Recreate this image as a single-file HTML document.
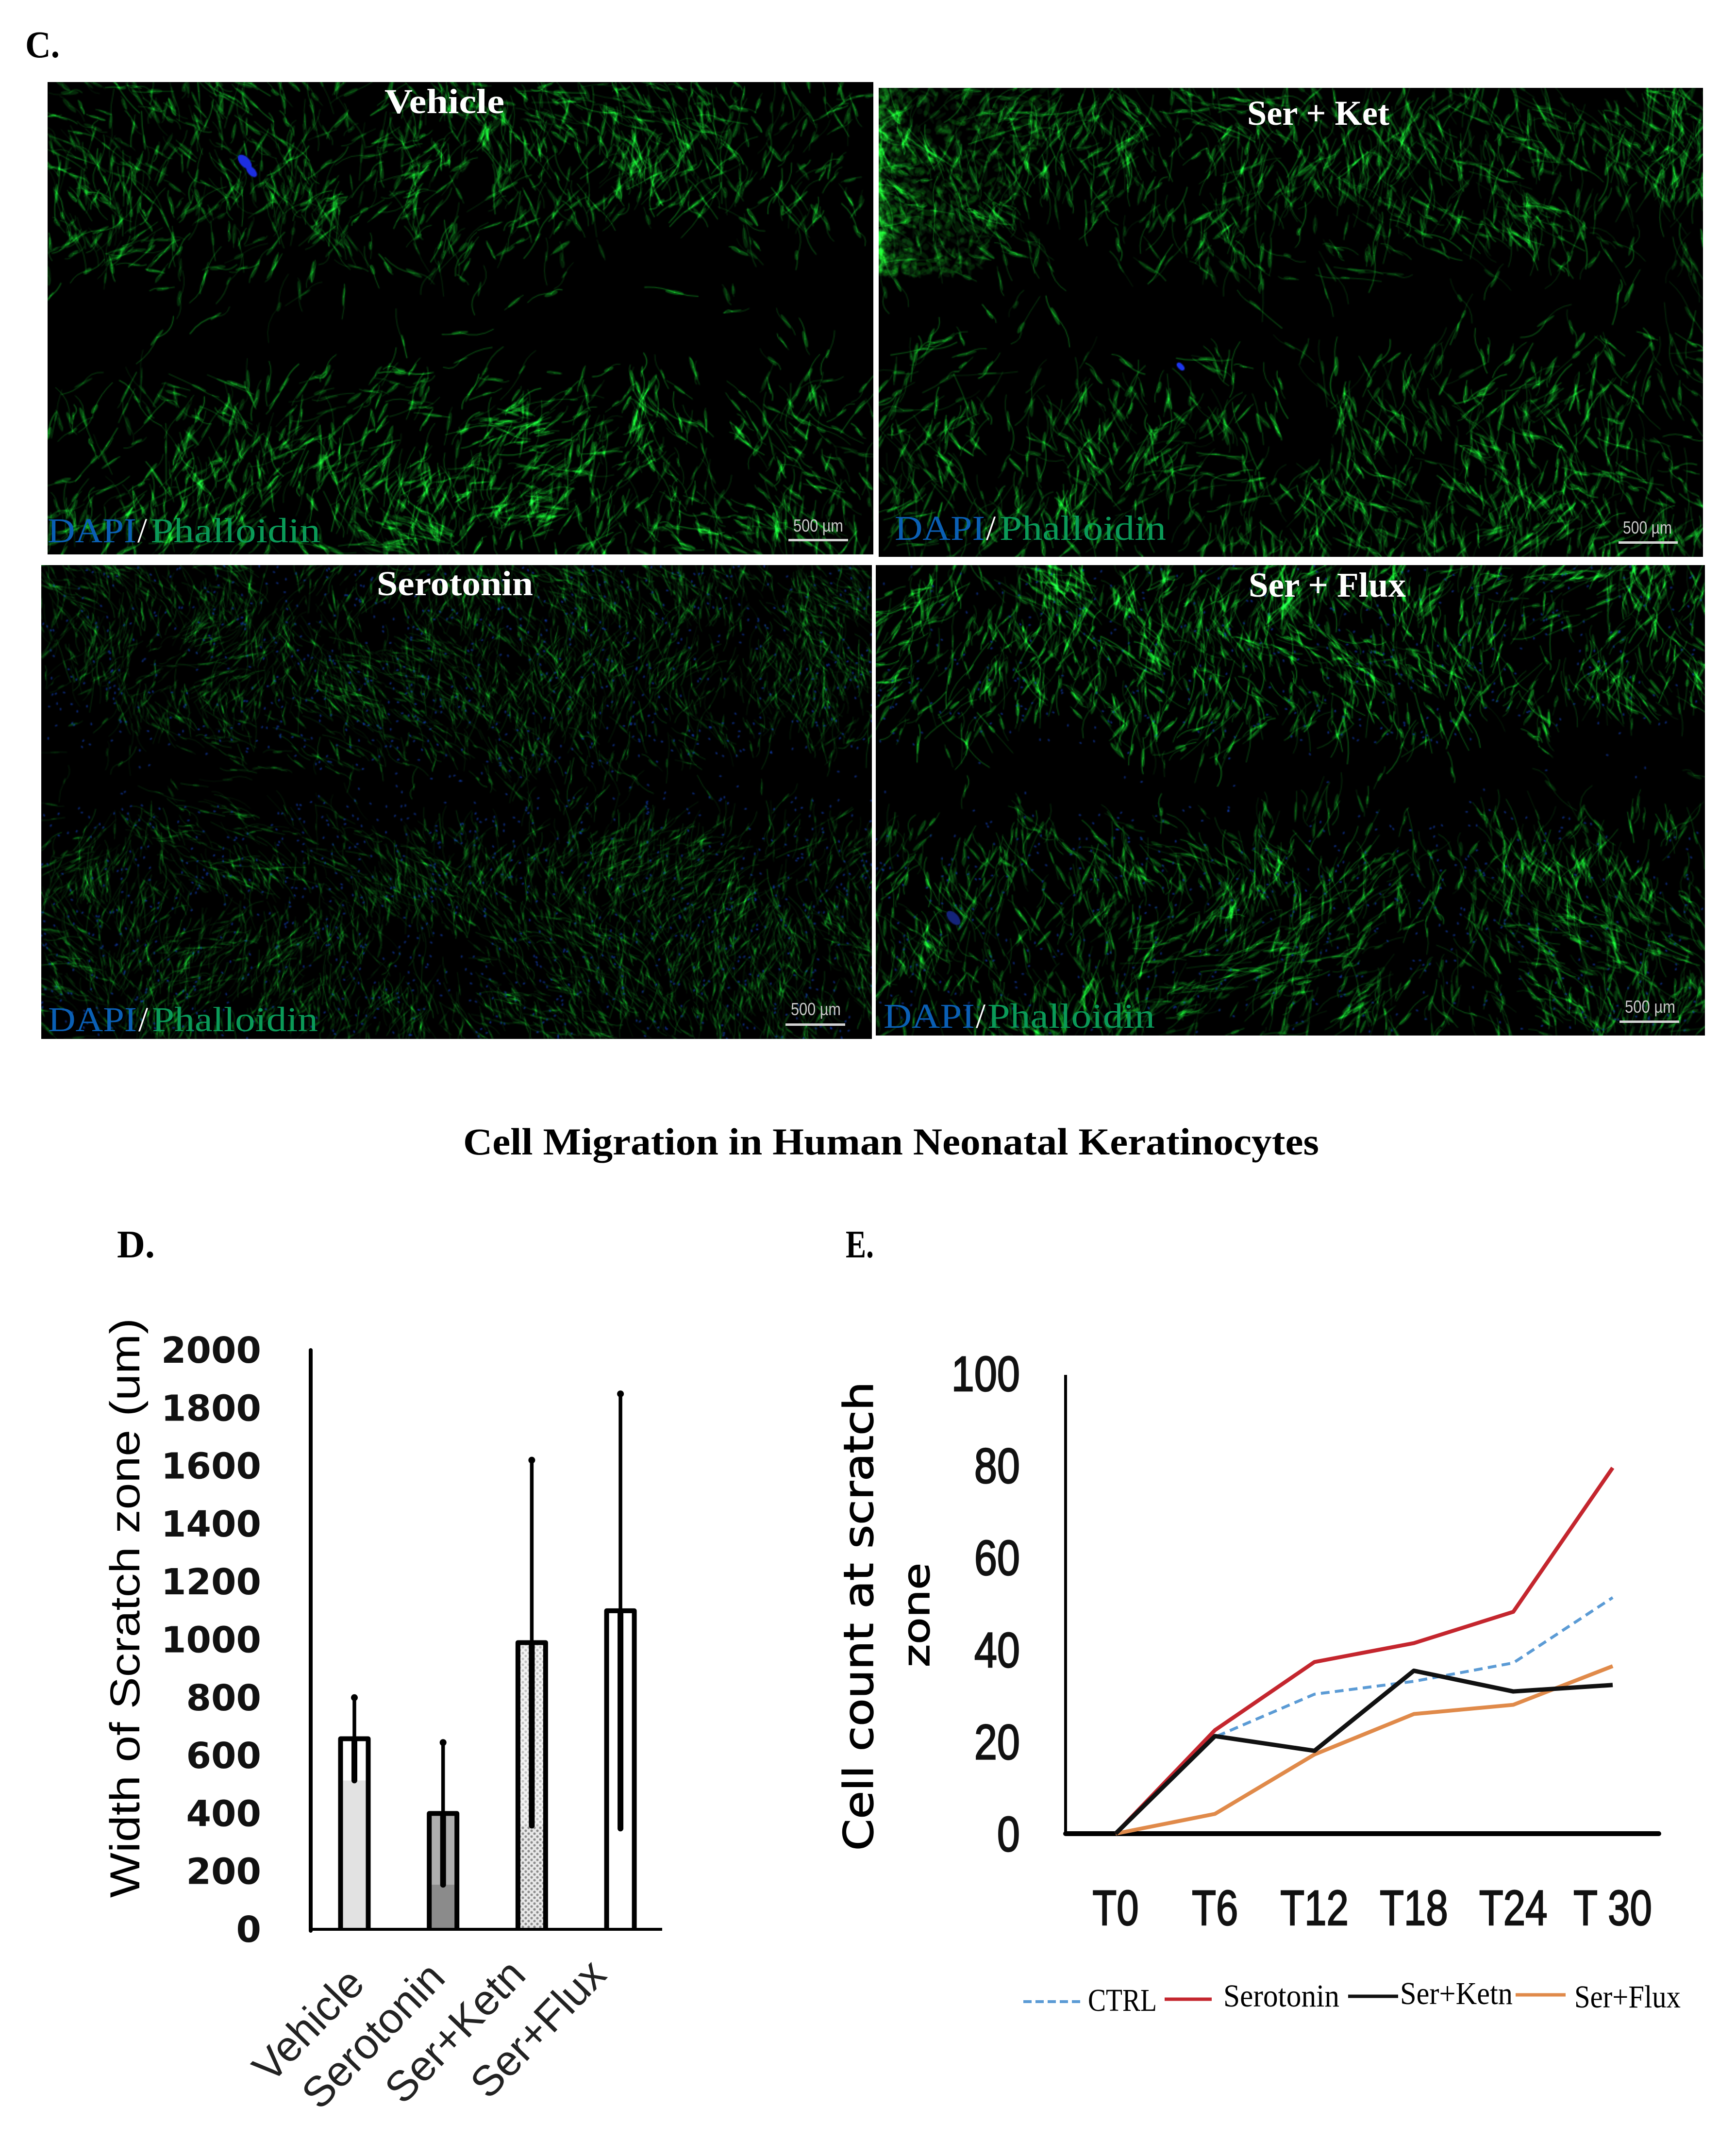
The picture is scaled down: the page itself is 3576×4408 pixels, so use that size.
<!DOCTYPE html>
<html lang="en">
<head>
<meta charset="utf-8">
<title>Cell Migration in Human Neonatal Keratinocytes</title>
<style>
html,body{margin:0;padding:0;background:#fff;}
#page{position:relative;width:3576px;height:4408px;overflow:hidden;background:#fff;}
canvas{position:absolute;display:block;background:#000;image-rendering:auto;}
#overlay{position:absolute;left:0;top:0;}
.serif{font-family:"Liberation Serif","DejaVu Serif",serif;}
.sans{font-family:"Liberation Sans","DejaVu Sans",sans-serif;}
.dv{font-family:"DejaVu Sans","Liberation Sans",sans-serif;}
</style>
</head>
<body>
<div id="page">
<canvas id="p1" width="850" height="486" style="left:98px;top:169px;width:1701px;height:973px"></canvas>
<canvas id="p2" width="849" height="483" style="left:1810px;top:181px;width:1698px;height:966px"></canvas>
<canvas id="p3" width="855" height="488" style="left:85px;top:1164px;width:1711px;height:976px"></canvas>
<canvas id="p4" width="854" height="484" style="left:1804px;top:1164px;width:1708px;height:969px"></canvas>

<svg id="overlay" xmlns="http://www.w3.org/2000/svg" width="3576" height="4408" viewBox="0 0 3576 4408">
<defs>
<pattern id="dots" width="12" height="12" patternUnits="userSpaceOnUse">
<rect width="12" height="12" fill="#e8e8e8"/>
<circle cx="3" cy="3" r="2.6" fill="#8d8d8d"/>
<circle cx="9" cy="9" r="2.6" fill="#8d8d8d"/>
</pattern>
</defs>

<text class="serif" x="52" y="118" font-size="78" font-weight="700" textLength="71" lengthAdjust="spacingAndGlyphs">C.</text>

<g>
<text class="serif" x="792" y="233" font-size="72" font-weight="700" fill="#fff" textLength="247" lengthAdjust="spacingAndGlyphs">Vehicle</text>
<text class="serif" x="98" y="1117" font-size="72" fill="#0a5fb4" textLength="183" lengthAdjust="spacingAndGlyphs">DAPI</text>
<text class="serif" x="283" y="1117" font-size="72" fill="#fff">/</text>
<text class="serif" x="310" y="1117" font-size="72" fill="#0a9a58" textLength="350" lengthAdjust="spacingAndGlyphs">Phalloidin</text>
<text class="sans" x="1634" y="1095" font-size="36" fill="#c9c9c9" textLength="103" lengthAdjust="spacingAndGlyphs">500 µm</text>
<rect x="1624" y="1110" width="123" height="5" fill="#d4d4d4"/>
</g>

<g>
<text class="serif" x="2569" y="257" font-size="72" font-weight="700" fill="#fff" textLength="293" lengthAdjust="spacingAndGlyphs">Ser + Ket</text>
<text class="serif" x="1843" y="1112" font-size="72" fill="#0a5fb4" textLength="186" lengthAdjust="spacingAndGlyphs">DAPI</text>
<text class="serif" x="2031" y="1112" font-size="72" fill="#fff">/</text>
<text class="serif" x="2059" y="1112" font-size="72" fill="#0a9a58" textLength="343" lengthAdjust="spacingAndGlyphs">Phalloidin</text>
<text class="sans" x="3343" y="1099" font-size="36" fill="#c9c9c9" textLength="101" lengthAdjust="spacingAndGlyphs">500 µm</text>
<rect x="3334" y="1115" width="122" height="5" fill="#d4d4d4"/>
</g>

<g>
<text class="serif" x="776" y="1226" font-size="72" font-weight="700" fill="#fff" textLength="322" lengthAdjust="spacingAndGlyphs">Serotonin</text>
<text class="serif" x="99" y="2124" font-size="72" fill="#0a5fb4" textLength="183" lengthAdjust="spacingAndGlyphs">DAPI</text>
<text class="serif" x="285" y="2124" font-size="72" fill="#fff">/</text>
<text class="serif" x="313" y="2124" font-size="72" fill="#0a9a58" textLength="342" lengthAdjust="spacingAndGlyphs">Phalloidin</text>
<text class="sans" x="1629" y="2091" font-size="36" fill="#c9c9c9" textLength="103" lengthAdjust="spacingAndGlyphs">500 µm</text>
<rect x="1618" y="2108" width="123" height="5" fill="#d4d4d4"/>
</g>

<g>
<text class="serif" x="2572" y="1229" font-size="72" font-weight="700" fill="#fff" textLength="324" lengthAdjust="spacingAndGlyphs">Ser + Flux</text>
<text class="serif" x="1820" y="2117" font-size="72" fill="#0a5fb4" textLength="188" lengthAdjust="spacingAndGlyphs">DAPI</text>
<text class="serif" x="2010" y="2117" font-size="72" fill="#fff">/</text>
<text class="serif" x="2034" y="2117" font-size="72" fill="#0a9a58" textLength="345" lengthAdjust="spacingAndGlyphs">Phalloidin</text>
<text class="sans" x="3347" y="2086" font-size="36" fill="#c9c9c9" textLength="104" lengthAdjust="spacingAndGlyphs">500 µm</text>
<rect x="3336" y="2102" width="123" height="5" fill="#d4d4d4"/>
</g>

<text class="serif" x="954" y="2378" font-size="78" font-weight="700" textLength="1763" lengthAdjust="spacingAndGlyphs">Cell Migration in Human Neonatal Keratinocytes</text>
<text class="serif" x="241" y="2590" font-size="80" font-weight="700" textLength="78" lengthAdjust="spacingAndGlyphs">D.</text>
<text class="serif" x="1742" y="2590" font-size="80" font-weight="700" textLength="58" lengthAdjust="spacingAndGlyphs">E.</text>

<g id="chart-d">
<text class="sans" transform="translate(287 3909) rotate(-90)" font-size="86" textLength="1194" lengthAdjust="spacingAndGlyphs">Width of Scratch zone (um)</text>
</g>

<g id="chart-e">
<text class="dv" transform="translate(1798 3812) rotate(-90)" font-size="84" stroke="#000" stroke-width="1.5" textLength="966" lengthAdjust="spacingAndGlyphs">Cell count at scratch</text>
<text class="dv" transform="translate(1914 3434) rotate(-90)" font-size="76" stroke="#000" stroke-width="1.5" textLength="215" lengthAdjust="spacingAndGlyphs">zone</text>
</g>

<g>
<line x1="2108" y1="4123" x2="2226" y2="4123" stroke="#5b9bd5" stroke-width="6" stroke-dasharray="17 8"/>
<text class="serif" x="2241" y="4142" font-size="66" textLength="142" lengthAdjust="spacingAndGlyphs">CTRL</text>
<line x1="2399" y1="4118" x2="2496" y2="4118" stroke="#c4262e" stroke-width="7"/>
<text class="serif" x="2520" y="4133" font-size="66" textLength="239" lengthAdjust="spacingAndGlyphs">Serotonin</text>
<line x1="2777" y1="4112" x2="2880" y2="4112" stroke="#111" stroke-width="7"/>
<text class="serif" x="2884" y="4128" font-size="66" textLength="232" lengthAdjust="spacingAndGlyphs">Ser+Ketn</text>
<line x1="3122" y1="4109" x2="3225" y2="4109" stroke="#e08a4a" stroke-width="7"/>
<text class="serif" x="3243" y="4135" font-size="66" textLength="219" lengthAdjust="spacingAndGlyphs">Ser+Flux</text>
</g>
</svg>
</div>

<script>
/* ---------- Chart D data ---------- */
const barCategories = ['Vehicle', 'Serotonin', 'Ser+Ketn', 'Ser+Flux'];
const barValues = [658, 400, 990, 1100];
const barErrorHigh = [800, 645, 1620, 1849];
const barErrorLow = [514, 154, 358, 348];
const barTickLabels = [0, 200, 400, 600, 800, 1000, 1200, 1400, 1600, 1800, 2000];

/* ---------- Chart E data ---------- */
const lineCategories = ['T0', 'T6', 'T12', 'T18', 'T24', 'T 30'];
const ctrlValues = [0, 21, 30.3, 33.1, 37.1, 51.3];
const serotoninValues = [0, 22.5, 37.3, 41.4, 48.2, 79.5];
const ketnValues = [0, 21.2, 18, 35.4, 30.9, 32.3];
const fluxValues = [0, 4.3, 17.2, 26, 28, 36.4];
const lineTickLabels = [0, 20, 40, 60, 80, 100];

const NS = 'http://www.w3.org/2000/svg';
function mk(tag, parent, attrs) {
  const el = document.createElementNS(NS, tag);
  for (const k in attrs) el.setAttribute(k, attrs[k]);
  parent.appendChild(el);
  return el;
}

/* ---------- Chart D ---------- */
(function () {
  const g = document.getElementById('chart-d');
  const yD = v => 3974 - v * 0.5965;
  const xD = i => 730 + i * 182.7;
  const fills = ['#e2e2e2', '#8b8b8b', 'url(#dots)', '#ffffff'];
  const veil = [1, 0.3, 0.45, 0];

  barTickLabels.forEach(t => {
    const el = mk('text', g, { x: 538, y: yD(t) + 26, 'font-size': 74, 'font-weight': 700, 'text-anchor': 'end', class: 'dv', fill: '#111' });
    
    
    el.textContent = t;
  });

  barCategories.forEach((c, i) => {
    const cx = xD(i), hw = 28.5, top = yD(barValues[i]), base = yD(0), low = yD(barErrorLow[i]), high = yD(barErrorHigh[i]);
    const fill = mk('rect', g, { x: cx - hw, y: top, width: hw * 2, height: base - top, fill: fills[i] });
    
    
    const v = mk('rect', g, { x: cx - hw, y: top, width: hw * 2, height: Math.max(0, low - top), fill: '#fff', opacity: veil[i] });
    
    
    const outline = mk('path', g, { d: 'M' + (cx - hw) + ' ' + base + 'V' + top + 'H' + (cx + hw) + 'V' + base, fill: 'none', stroke: '#000', 'stroke-width': 10, 'stroke-linejoin': 'round' });
    
    
    const up = mk('line', g, { x1: cx, x2: cx, y1: high, y2: top, stroke: '#000', 'stroke-width': 7.5, 'stroke-linecap': 'round' });
    
    
    const dn = mk('line', g, { x1: cx, x2: cx, y1: top, y2: low, stroke: '#000', 'stroke-width': 12, 'stroke-linecap': 'round' });
    
    
    const cap = mk('circle', g, { cx: cx, cy: high, r: 7, fill: '#000' });
    
    
  });

  const axY = mk('line', g, { x1: 640, x2: 640, y1: 2781, y2: yD(0) + 3, stroke: '#000', 'stroke-width': 8, 'stroke-linecap': 'round' });
  
  
  const axX = mk('line', g, { x1: 637, x2: 1364, y1: yD(0), y2: yD(0), stroke: '#000', 'stroke-width': 6 });
  
  

  barCategories.forEach((c, i) => {
    const ax = 755 + i * 166;
    const ay = 4090 - (i ? 12 : 0) - (i > 1 ? 6 : 0);
    const el = mk('text', g, { transform: 'translate(' + ax + ' ' + ay + ') rotate(-46)', 'font-size': 88, 'text-anchor': 'end', class: 'sans', fill: '#222' });
    
    
    el.textContent = c;
  });
})();

/* ---------- Chart E ---------- */
(function () {
  const g = document.getElementById('chart-e');
  const yE = v => 3777 - v * 9.48;
  const xE = i => 2298 + i * 204.8;

  lineTickLabels.forEach(t => {
    const el = mk('text', g, { x: 2101, y: yE(t) + 36, 'font-size': 102, 'text-anchor': 'end', class: 'sans', fill: '#111', stroke: '#111', 'stroke-width': 2.5 });
    
    
    el.textContent = t;
    el.setAttribute('textLength', el.getComputedTextLength() * 0.83);
    el.setAttribute('lengthAdjust', 'spacingAndGlyphs');
  });

  lineCategories.forEach((c, i) => {
    const el = mk('text', g, { x: xE(i), y: 3965, 'font-size': 102, 'text-anchor': 'middle', class: 'sans', fill: '#111', stroke: '#111', 'stroke-width': 2.5 });
    
    
    el.textContent = c;
    el.setAttribute('textLength', el.getComputedTextLength() * 0.8);
    el.setAttribute('lengthAdjust', 'spacingAndGlyphs');
  });

  const axY = mk('line', g, { x1: 2195, x2: 2195, y1: 2832, y2: 3777, stroke: '#000', 'stroke-width': 6 });
  
  
  const axX = mk('line', g, { x1: 2195, x2: 3417, y1: 3777, y2: 3777, stroke: '#000', 'stroke-width': 10, 'stroke-linecap': 'round' });
  
  

  function pathOf(vals) {
    return vals.map((v, i) => (i ? 'L' : 'M') + xE(i) + ' ' + yE(v)).join('');
  }
  const lineCtrl = mk('path', g, { d: pathOf(ctrlValues), fill: 'none', stroke: '#5b9bd5', 'stroke-width': 6, 'stroke-dasharray': '18 11' });
  
  
  const lineSer = mk('path', g, { d: pathOf(serotoninValues), fill: 'none', stroke: '#c4262e', 'stroke-width': 8, 'stroke-linejoin': 'round' });
  
  
  const lineFlux = mk('path', g, { d: pathOf(fluxValues), fill: 'none', stroke: '#e08a4a', 'stroke-width': 8, 'stroke-linejoin': 'round' });
  
  
  const lineKetn = mk('path', g, { d: pathOf(ketnValues), fill: 'none', stroke: '#111', 'stroke-width': 9, 'stroke-linejoin': 'round' });
  
  
})();

/* ---------- Micrograph texture (decorative, not data) ---------- */
function rng(seed) {
  return function () {
    seed |= 0; seed = seed + 0x6D2B79F5 | 0;
    let t = Math.imul(seed ^ seed >>> 15, 1 | seed);
    t = t + Math.imul(t ^ t >>> 7, 61 | t) ^ t;
    return ((t ^ t >>> 14) >>> 0) / 4294967296;
  };
}
function makeNoise(r, n) {
  const grid = [];
  for (let i = 0; i < (n + 2) * (n + 2); i++) grid.push(r());
  return function (x, y) {
    const fx = Math.min(x, 0.9999) * n, fy = Math.min(y, 0.9999) * n;
    const ix = Math.floor(fx), iy = Math.floor(fy);
    let tx = fx - ix, ty = fy - iy;
    tx = tx * tx * (3 - 2 * tx); ty = ty * ty * (3 - 2 * ty);
    const at = (a, b) => grid[b * (n + 2) + a];
    return (at(ix, iy) * (1 - tx) + at(ix + 1, iy) * tx) * (1 - ty) + (at(ix, iy + 1) * (1 - tx) + at(ix + 1, iy + 1) * tx) * ty;
  };
}
function lerp3(a, x) {
  return x < 0.5 ? a[0] + (a[1] - a[0]) * x * 2 : a[1] + (a[2] - a[1]) * (x - 0.5) * 2;
}
function drawPanel(cfg) {
  const cv = document.getElementById(cfg.id), c = cv.getContext('2d');
  const W = cv.width, H = cv.height, r = rng(cfg.seed);
  const clump = makeNoise(r, 14), flow = makeNoise(r, 5), edge = makeNoise(r, 12);
  c.fillStyle = '#000'; c.fillRect(0, 0, W, H);
  c.globalCompositeOperation = 'lighter';
  c.lineCap = 'round';

  function cell(x, y, k) {
    const fx = x / W, fy = y / H;
    const ang = Math.PI / 2 + (r() - 0.5) * cfg.spread + (flow(fx, fy) - 0.5) * 2.2;
    const L = cfg.len * (0.45 + r() * 1.1);
    const dx = Math.cos(ang), dy = Math.sin(ang);
    const g = (cfg.bright * (0.5 + r() * 0.7)) * k;
    const col = a => 'rgba(' + Math.round(g * 0.1) + ',' + Math.round(g) + ',' + Math.round(g * 0.22) + ',' + a + ')';
    c.strokeStyle = col(0.7);
    for (let s = -1; s <= 1; s += 2) {
      const l = L * (0.5 + r() * 0.7), b = (r() - 0.5) * L * 0.6;
      c.lineWidth = cfg.lw * (0.5 + r() * 0.8);
      c.beginPath();
      c.moveTo(x, y);
      c.quadraticCurveTo(x + s * dx * l * 0.5 - dy * b, y + s * dy * l * 0.5 + dx * b, x + s * dx * l, y + s * dy * l);
      c.stroke();
    }
    c.fillStyle = col(0.55);
    c.beginPath();
    c.ellipse(x, y, cfg.body * (0.8 + r() * 1.4), cfg.body * 0.28 * (0.7 + r()), ang, 0, Math.PI * 2);
    c.fill();
  }

  for (let i = 0; i < cfg.n; i++) {
    const x = r() * W, y = r() * H, fx = x / W, fy = y / H;
    const t = lerp3(cfg.top, fx) + (edge(fx, 0.2) - 0.5) * 0.08;
    const b = lerp3(cfg.bot, fx) + (edge(fx, 0.8) - 0.5) * 0.08;
    let d;
    if (fy > t && fy < b) d = cfg.inner;
    else d = Math.min(1, 0.3 + (fy < t ? t - fy : fy - b) * 5);
    d *= 0.1 + clump(fx, fy) * 1.35;
    if (r() < d) cell(x, y, (fy < t ? cfg.topK : 1));
  }

  if (cfg.cluster) {
    for (let i = 0; i < 900; i++) {
      const fy = r() * 0.4;
      const fx = Math.pow(r(), 2.0) * 0.2 * (1.15 - fy * 1.4);
      const x = fx * W, y = fy * H;
      c.fillStyle = 'rgba(6,' + Math.round(30 + r() * 60) + ',12,.42)';
      c.beginPath();
      c.ellipse(x, y, 2 + r() * 6, 1 + r() * 2.2, r() * 3, 0, Math.PI * 2);
      c.fill();
    }
  }
  c.globalCompositeOperation = 'source-over';
  for (let i = 0; i < cfg.blue; i++) {
    const x = r() * W, y = r() * H, fx = x / W, fy = y / H;
    const t = lerp3(cfg.top, fx), b = lerp3(cfg.bot, fx);
    if (fy > t && fy < b && r() > 0.15) continue;
    c.fillStyle = 'rgba(20,70,200,.6)';
    c.beginPath();
    c.ellipse(x, y, 1.4, 0.9, r() * 3, 0, Math.PI * 2);
    c.fill();
  }
  (cfg.blobs || []).forEach(function (b) {
    c.fillStyle = b[3];
    c.beginPath();
    c.ellipse(b[0], b[1], b[2], b[2] * 0.55, 0.8, 0, Math.PI * 2);
    c.fill();
  });
}

drawPanel({ id: 'p1', seed: 11, n: 3000, top: [.47, .40, .35], bot: [.63, .63, .55], inner: .035, spread: 1.9, len: 22, lw: .95, body: 5, bright: 120, topK: .9, blue: 0, blobs: [[203, 82, 9, '#1c2ee0'], [210, 92, 7, '#1c2ee0']] });
drawPanel({ id: 'p2', seed: 23, n: 2700, top: [.39, .41, .39], bot: [.56, .56, .54], inner: .06, spread: 1.9, len: 24, lw: .95, body: 5, bright: 120, topK: .9, blue: 0, cluster: true, blobs: [[311, 287, 5, '#1c36f0']] });
drawPanel({ id: 'p3', seed: 37, n: 5500, top: [.37, .46, .39], bot: [.51, .49, .49], inner: .1, spread: 1.6, len: 19, lw: .7, body: 3, bright: 85, topK: 1, blue: 1700 });
drawPanel({ id: 'p4', seed: 53, n: 3200, top: [.39, .38, .37], bot: [.55, .50, .53], inner: .03, spread: 1.6, len: 24, lw: .85, body: 4.5, bright: 115, topK: 1.2, blue: 1000, blobs: [[80, 363, 9, '#14247a']] });
</script>
</body>
</html>
